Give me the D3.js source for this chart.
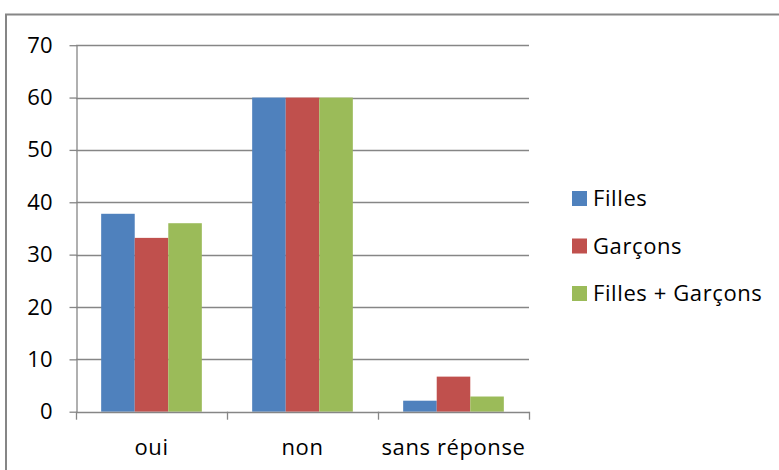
<!DOCTYPE html>
<html>
<head>
<meta charset="utf-8">
<script src="https://cdn.jsdelivr.net/npm/d3@7"></script>
<style>
  body { margin: 0; background: #fff; }
  svg text { font-family: "Open Sans", Lato, sans-serif; fill: #000; }
</style>
</head>
<body>
<svg id="chart" width="779" height="470"></svg>
<script>
// values
const categories = ['oui', 'non', 'sans réponse'];
const seriesNames = ['Filles', 'Garçons', 'Filles + Garçons'];
const seriesColors = ['#4F81BD', '#C0504D', '#9BBB59'];
const filles = [37.8, 60, 2.1];
const garcons = [33.2, 60, 6.7];
const fillesGarcons = [36.0, 60, 2.9];
const yTicks = [0, 10, 20, 30, 40, 50, 60, 70];

const series = [filles, garcons, fillesGarcons];
const grey = '#868686';
const fontSize = '22px';

const svg = d3.select('#chart');

// outer chart frame (runs off the right / bottom edges)
svg.append('rect')
  .attr('x', 6).attr('y', 14.5)
  .attr('width', 820).attr('height', 520)
  .attr('fill', 'none')
  .attr('stroke', grey)
  .attr('stroke-width', 2);

const plot = { left: 76, right: 529, top: 45.2, bottom: 411.7 };

const x0 = d3.scaleBand()
  .domain(categories)
  .range([plot.left, plot.right]);

// gap width 150% -> 0.75 bar of padding on each side of a group
const x1 = d3.scaleBand()
  .domain(d3.range(seriesNames.length))
  .range([0, x0.bandwidth()])
  .paddingInner(0)
  .paddingOuter(0.75);

const y = d3.scaleLinear()
  .domain([0, 70])
  .range([plot.bottom, plot.top]);

// gridlines
svg.append('g')
  .selectAll('line')
  .data(yTicks.filter(d => d > 0))
  .join('line')
  .attr('x1', plot.left).attr('x2', plot.right)
  .attr('y1', d => Math.round(y(d)) + 0.5)
  .attr('y2', d => Math.round(y(d)) + 0.5)
  .attr('stroke', grey)
  .attr('stroke-width', 1.3);

// bars
const groups = svg.append('g')
  .selectAll('g')
  .data(categories)
  .join('g')
  .attr('transform', d => `translate(${x0(d)},0)`);

groups.selectAll('rect')
  .data((c, i) => series.map((s, k) => ({ k, v: s[i] })))
  .join('rect')
  .attr('x', d => x1(d.k))
  .attr('width', x1.bandwidth())
  .attr('y', d => y(d.v))
  .attr('height', d => y(0) - y(d.v))
  .attr('fill', d => seriesColors[d.k]);

// y axis
const yAxis = svg.append('g')
  .attr('transform', `translate(${plot.left + 0.5},0)`)
  .call(d3.axisLeft(y).tickValues(yTicks).tickSize(7).tickSizeOuter(0).tickPadding(17));
yAxis.select('.domain').attr('stroke', grey).attr('stroke-width', 1.3);
yAxis.selectAll('.tick line').attr('stroke', grey).attr('stroke-width', 1.3);
yAxis.selectAll('.tick text')
  .style('font-size', fontSize)
  .attr('fill', '#000');

// x axis: line + ticks at category boundaries
const bounds = categories.map(c => x0(c)).concat([plot.right]);
const xAxis = svg.append('g');
xAxis.append('line')
  .attr('x1', plot.left).attr('x2', plot.right)
  .attr('y1', Math.round(y(0)) + 0.5).attr('y2', Math.round(y(0)) + 0.5)
  .attr('stroke', grey).attr('stroke-width', 1.3);
xAxis.selectAll('line.tk')
  .data(bounds)
  .join('line')
  .attr('class', 'tk')
  .attr('x1', d => Math.round(d) + 0.5).attr('x2', d => Math.round(d) + 0.5)
  .attr('y1', y(0)).attr('y2', y(0) + 8)
  .attr('stroke', grey).attr('stroke-width', 1.3);
xAxis.selectAll('text')
  .data(categories)
  .join('text')
  .attr('x', d => x0(d) + x0.bandwidth() / 2)
  .attr('y', 455)
  .attr('text-anchor', 'middle')
  .style('font-size', fontSize)
  .style('letter-spacing', '0.6px')
  .text(d => d);

// legend
const legend = svg.append('g')
  .selectAll('g')
  .data(seriesNames)
  .join('g')
  .attr('transform', (d, i) => `translate(572,${206 + i * 47.5})`);
legend.append('rect')
  .attr('x', 0).attr('y', -15)
  .attr('width', 15).attr('height', 15)
  .attr('fill', (d, i) => seriesColors[i]);
legend.append('text')
  .attr('x', 21).attr('y', 0)
  .style('font-size', fontSize)
  .style('letter-spacing', '0.6px')
  .text(d => d);
</script>
</body>
</html>
